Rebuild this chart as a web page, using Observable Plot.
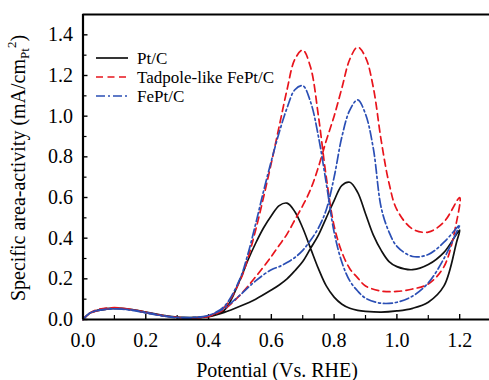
<!DOCTYPE html>
<html><head><meta charset="utf-8">
<script src="https://cdn.jsdelivr.net/npm/d3@7"></script>
<script src="https://cdn.jsdelivr.net/npm/@observablehq/plot@0.6"></script>
<style>body{margin:0;background:#fff}#chart{width:489px;height:380px}</style>
</head><body><div id="chart"></div>
<script>
// Potential grids (V vs. RHE)
const forwardPotential = [0, 0.02, 0.05, 0.1, 0.15, 0.2, 0.25, 0.3, 0.35, 0.4, 0.45, 0.5, 0.55, 0.6, 0.625, 0.65, 0.675, 0.7, 0.725, 0.75, 0.775, 0.8, 0.825, 0.85, 0.875, 0.9, 0.925, 0.95, 0.975, 1.0, 1.05, 1.1, 1.15, 1.2];
const backwardPotential = [1.19, 1.15, 1.1, 1.05, 1.0, 0.95, 0.9, 0.875, 0.85, 0.825, 0.8, 0.775, 0.75, 0.725, 0.7, 0.675, 0.65, 0.625, 0.6, 0.575, 0.55, 0.525, 0.5, 0.45, 0.4, 0.35, 0.3, 0.25, 0.2, 0.15, 0.1, 0.05, 0.02, 0];

// Pt/C
const ptcForward = [0.0, 0.03, 0.045, 0.055, 0.05, 0.037, 0.022, 0.012, 0.009, 0.014, 0.035, 0.065, 0.1, 0.145, 0.17, 0.2, 0.24, 0.285, 0.35, 0.415, 0.5, 0.585, 0.66, 0.675, 0.625, 0.52, 0.415, 0.34, 0.285, 0.26, 0.245, 0.27, 0.33, 0.44];
const ptcBackward = [0.38, 0.165, 0.085, 0.055, 0.042, 0.036, 0.04, 0.045, 0.055, 0.075, 0.11, 0.165, 0.25, 0.35, 0.45, 0.53, 0.572, 0.56, 0.51, 0.45, 0.375, 0.29, 0.195, 0.045, 0.016, 0.01, 0.012, 0.02, 0.035, 0.05, 0.056, 0.048, 0.03, 0.0];

// Tadpole-like FePt/C
const tadpoleForward = [0.0, 0.028, 0.045, 0.055, 0.05, 0.036, 0.02, 0.01, 0.008, 0.015, 0.05, 0.12, 0.21, 0.31, 0.365, 0.42, 0.49, 0.56, 0.64, 0.75, 0.88, 1.0, 1.14, 1.28, 1.34, 1.29, 1.14, 0.88, 0.67, 0.54, 0.445, 0.43, 0.48, 0.6];
const tadpoleBackward = [0.48, 0.26, 0.175, 0.15, 0.138, 0.14, 0.165, 0.205, 0.25, 0.33, 0.46, 0.7, 1.0, 1.24, 1.325, 1.28, 1.13, 0.95, 0.77, 0.6, 0.44, 0.3, 0.19, 0.06, 0.018, 0.008, 0.01, 0.02, 0.035, 0.05, 0.058, 0.05, 0.03, 0.0];

// FePt/C
const feptForward = [0.0, 0.03, 0.045, 0.052, 0.048, 0.035, 0.02, 0.01, 0.01, 0.02, 0.055, 0.12, 0.19, 0.245, 0.26, 0.28, 0.305, 0.34, 0.39, 0.45, 0.54, 0.7, 0.9, 1.03, 1.08, 1.01, 0.84, 0.55, 0.43, 0.36, 0.31, 0.32, 0.38, 0.465];
const feptBackward = [0.43, 0.3, 0.18, 0.115, 0.085, 0.08, 0.105, 0.14, 0.19, 0.28, 0.43, 0.67, 0.9, 1.07, 1.15, 1.13, 1.04, 0.92, 0.78, 0.63, 0.47, 0.32, 0.2, 0.065, 0.02, 0.008, 0.008, 0.018, 0.032, 0.046, 0.053, 0.046, 0.03, 0.0];

const seriesNames = ["Pt/C", "Tadpole-like FePt/C", "FePt/C"];
const seriesColors = ["#111111", "#e8141c", "#2b4fb5"];
const seriesDash = [null, "7,4.5", "9,3,2,3"];
const xMajorTicks = [0, 0.2, 0.4, 0.6, 0.8, 1.0, 1.2];
const xMinorTicks = [0.1, 0.3, 0.5, 0.7, 0.9, 1.1];
const yMajorTicks = [0, 0.2, 0.4, 0.6, 0.8, 1.0, 1.2, 1.4];
const yMinorTicks = [0.1, 0.3, 0.5, 0.7, 0.9, 1.1, 1.3];

const forwards = [ptcForward, tadpoleForward, feptForward];
const backwards = [ptcBackward, tadpoleBackward, feptBackward];
const loops = seriesNames.map((name, i) => [
  ...forwardPotential.map((v, j) => ({series: name, v, j: forwards[i][j]})),
  ...backwardPotential.map((v, j) => ({series: name, v, j: backwards[i][j]}))
]);

const W = 489, H = 380, mL = 82.5, mR = 0, mT = 14, mB = 61;
const plotW = W - mL - mR, plotH = H - mT - mB;
const font = "Liberation Serif, Times New Roman, serif";

const chart = Plot.plot({
  width: W, height: H,
  marginLeft: mL, marginRight: mR, marginTop: mT, marginBottom: mB,
  style: {fontFamily: font, fontSize: "20px", background: "#fff", color: "#000"},
  x: {domain: [0, 1.295]},
  y: {domain: [0, 1.5]},
  marks: [
    Plot.axisX(xMajorTicks, {tickSize: 0, tickPadding: 13.5, tickFormat: d => d.toFixed(1), label: null, fontSize: 20, fontFamily: font}),
    Plot.axisY(yMajorTicks, {tickSize: 0, tickPadding: 10, tickFormat: d => d.toFixed(1), label: null, fontSize: 20, fontFamily: font}),
    Plot.tickX(xMajorTicks, {x: d => d, insetTop: plotH - 5, stroke: "#000", strokeWidth: 1.4}),
    Plot.tickX(xMinorTicks, {x: d => d, insetTop: plotH - 4, stroke: "#000", strokeWidth: 1.2}),
    Plot.tickY(yMajorTicks, {y: d => d, insetRight: plotW - 5, stroke: "#000", strokeWidth: 1.4}),
    Plot.tickY(yMinorTicks, {y: d => d, insetRight: plotW - 4, stroke: "#000", strokeWidth: 1.2}),
    ...loops.map((data, i) => Plot.line(data, {
      x: "v", y: "j", stroke: seriesColors[i], strokeWidth: 1.7,
      strokeDasharray: seriesDash[i] ?? undefined, curve: "catmull-rom"
    })),
    Plot.ruleX([0], {stroke: "#000", strokeWidth: 2.2}),
    Plot.ruleY([0], {stroke: "#000", strokeWidth: 2.2}),
    Plot.ruleY([1.5], {stroke: "#000", strokeWidth: 2.2})
  ]
});
document.getElementById("chart").appendChild(chart);

const svg = d3.select(chart);
svg.selectAll("text").attr("font-family", font);
// Legend
const legendRowsY = [58, 77, 96];
const lg = svg.append("g").attr("text-anchor", "start");
seriesNames.forEach((name, i) => {
  lg.append("line").attr("x1", 96).attr("x2", 128).attr("y1", legendRowsY[i]).attr("y2", legendRowsY[i])
    .attr("stroke", seriesColors[i]).attr("stroke-width", 1.7)
    .attr("stroke-dasharray", seriesDash[i]);
  lg.append("text").attr("x", 137).attr("y", legendRowsY[i] + 6).attr("text-anchor", "start")
    .attr("font-family", font).attr("font-size", 17).attr("fill", "#000").text(name);
});
// X label
svg.append("text").attr("x", 277).attr("y", 377).attr("text-anchor", "middle")
  .attr("font-family", font).attr("font-size", 20).attr("fill", "#000").text("Potential (Vs. RHE)");
// Y label
const yl = svg.append("text").attr("transform", "translate(25,168) rotate(-90)")
  .attr("text-anchor", "middle").attr("font-family", font).attr("font-size", 20).attr("fill", "#000");
yl.append("tspan").text("Specific area-activity (mA/cm");
yl.append("tspan").attr("font-size", 13).attr("dy", 4).text("Pt");
yl.append("tspan").attr("font-size", 13).attr("dy", -13).text("2");
yl.append("tspan").attr("dy", 9).text(")");
</script></body></html>
